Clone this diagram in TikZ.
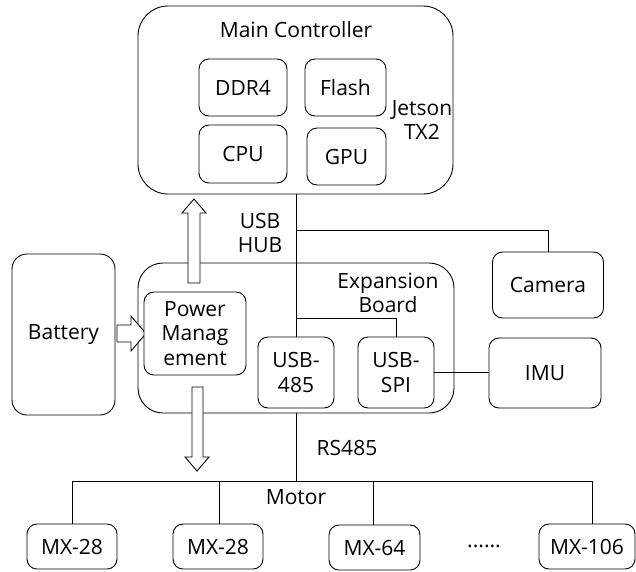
\documentclass[tikz,border=0pt]{standalone}
\usepackage{fontspec}
\setmainfont{Open Sans}
\begin{document}
\begin{tikzpicture}[x=1pt,y=-1pt,
  every node/.style={font=\fontsize{21}{24.5}\selectfont, align=center, inner sep=0pt},
  box/.style={draw, rounded corners=10pt, line width=0.9pt},
  link/.style={line width=0.9pt},
  hollow/.style={draw, fill=white, line width=0.9pt, line join=miter}]
\useasboundingbox (0,0) rectangle (636,571);

% Main controller
\node[box, rounded corners=30pt, minimum width=315pt, minimum height=188pt] (main) at (295.5,100) {};
\node (maintitle) at (296,30) {Main Controller};
\node[box, minimum width=88pt, minimum height=57pt] (ddr) at (243,87.5) {DDR4};
\node[box, minimum width=81pt, minimum height=57pt] (flash) at (345.5,87.5) {Flash};
\node[box, minimum width=88pt, minimum height=58pt] (cpu) at (243,154) {CPU};
\node[box, minimum width=79pt, minimum height=57pt] (gpu) at (346.5,156.5) {GPU};
\node (jetson) at (422,120) {Jetson\\TX2};

% Expansion board
\node[box, rounded corners=25pt, minimum width=316pt, minimum height=150pt] (exp) at (296,338) {};
\node (exptitle) at (388,293) {Expansion\\Board};
\node[box, minimum width=76pt, minimum height=71pt] (usb485) at (296,372.5) {USB-\\485};
\node[box, minimum width=76pt, minimum height=71pt] (usbspi) at (396,372.5) {USB-\\SPI};

% Hollow power arrows
\draw[hollow] (188,283) -- (188,213) -- (182,213) -- (194,199) -- (206,213) -- (200,213) -- (200,283) -- cycle;
\draw[hollow] (192,387) -- (192,457) -- (185,457) -- (197,471) -- (209,457) -- (203,457) -- (203,387) -- cycle;
\draw[hollow] (117,325) -- (131,325) -- (131,316) -- (146,333.5) -- (131,351) -- (131,342) -- (117,342) -- cycle;

\node[box, fill=white, minimum width=102pt, minimum height=83pt] (power) at (195,333.5) {Power\\Manag\\ement};
\node[box, rounded corners=15pt, minimum width=103pt, minimum height=161pt] (battery) at (63.5,334.5) {Battery};

% Peripherals
\node[box, minimum width=111pt, minimum height=66pt] (camera) at (548,285) {Camera};
\node[box, minimum width=112pt, minimum height=70pt] (imu) at (545,373) {IMU};

% Labels
\node (hub) at (260,233) {USB\\HUB};
\node (rs) at (347,448) {RS485};
\node (motor) at (296,497) {Motor};
\node (dots) at (484,546) {......};

% Motors
\node[box, minimum width=90pt, minimum height=45pt] (mx1) at (72,546.5) {MX-28};
\node[box, minimum width=90pt, minimum height=45pt] (mx2) at (218,546.5) {MX-28};
\node[box, minimum width=91pt, minimum height=45pt] (mx3) at (374.5,547.5) {MX-64};
\node[box, minimum width=96pt, minimum height=45pt] (mx4) at (587,546.5) {MX-106};

% Connectors
\coordinate (hubj) at (296,230);
\coordinate (expj) at (296,318);
\coordinate (bus) at (296,481);
\coordinate (busL) at (72,481);
\coordinate (bus2) at (219,481);
\coordinate (bus3) at (373,481);
\coordinate (busR) at (592,481);
\draw[link] (main.south -| usb485.north) -- (usb485.north);
\draw[link] (hubj) -| (camera.north);
\draw[link] (expj) -| (usbspi.north);
\draw[link] (usbspi.east) -- (imu.west |- usbspi.east);
\draw[link] (usb485.south |- exp.south) -- (bus);
\draw[link] (busL) -- (busR);
\draw[link] (busL) -- (busL |- mx1.north);
\draw[link] (bus2) -- (bus2 |- mx2.north);
\draw[link] (bus3) -- (bus3 |- mx3.north);
\draw[link] (busR) -- (busR |- mx4.north);
\end{tikzpicture}
\end{document}
